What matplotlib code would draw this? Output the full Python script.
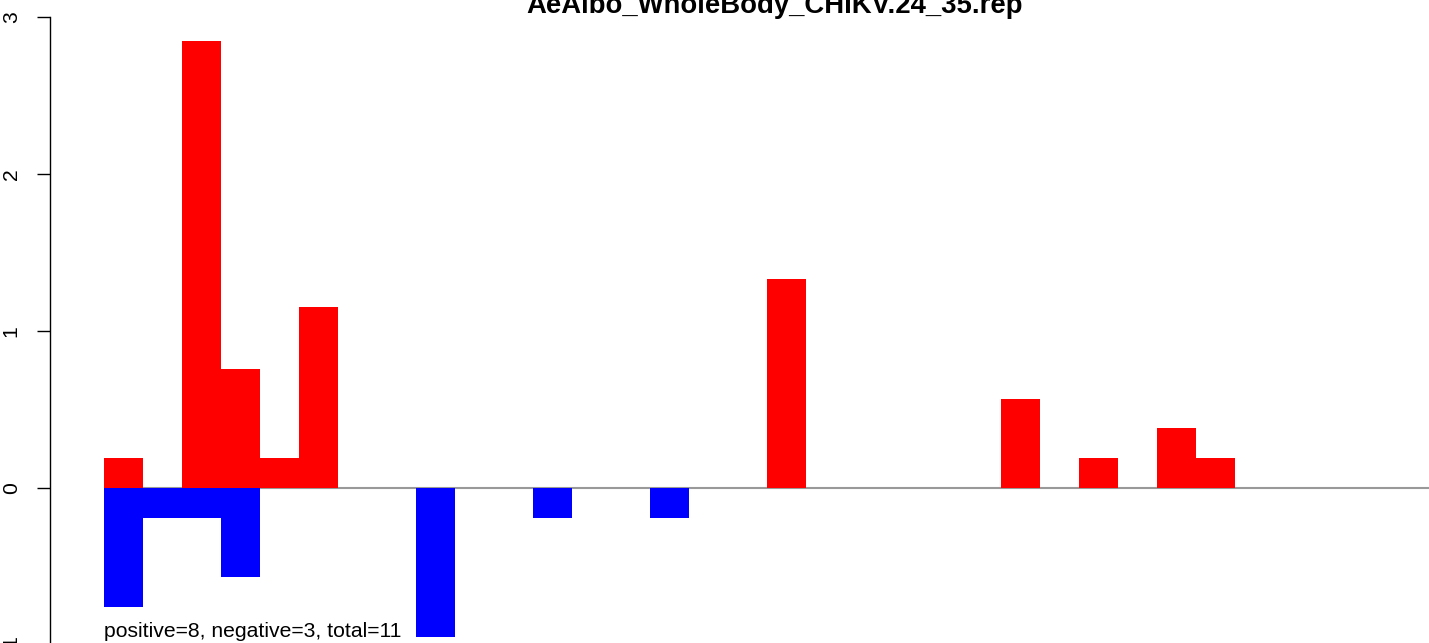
import matplotlib.pyplot as plt

plt.rcParams['font.family'] = ['Liberation Sans', 'DejaVu Sans']

# 34 positions, bars drawn with no gaps
n_pos = 34
pos_idx = [0, 2, 3, 4, 5, 17, 23, 25, 27, 28]
pos_val = [0.19, 2.85, 0.76, 0.19, 1.15, 1.33, 0.57, 0.19, 0.38, 0.19]
neg_idx = [0, 1, 2, 3, 8, 11, 14]
neg_val = [-0.76, -0.19, -0.19, -0.57, -0.95, -0.19, -0.19]
yticks = [-1, 0, 1, 2, 3]
title = "AeAlbo_WholeBody_CHIKV.24_35.rep"
note = "positive=8, negative=3, total=11"

W, H = 1429, 643
fig = plt.figure(figsize=(W / 100, H / 100), dpi=100)
# axes: left spine at x=50px, top at y=17px (value 3), bottom at y=645px (value -1)
ax = fig.add_axes([50 / W, -2 / H, (W - 50) / W, 628 / H])

ax.hlines(0, 0, n_pos, color='#999999', lw=1.5, zorder=1)
ax.bar(pos_idx, pos_val, width=1, align='edge', color='#FF0000', lw=0, zorder=2)
ax.bar(neg_idx, neg_val, width=1, align='edge', color='#0000FF', lw=0, zorder=2)

ax.set_xlim(-54 / 39, (W - 104) / 39)
ax.set_ylim(-1, 3)
ax.set_yticks(yticks)
ax.set_yticklabels([str(t) for t in yticks], rotation=90, va='center', fontsize=15.2)
ax.tick_params(axis='y', length=9.5, width=1, pad=11.5)
ax.set_xticks([])
for s in ['top', 'right', 'bottom']:
    ax.spines[s].set_visible(False)
ax.spines['left'].set_linewidth(1)

ax.text(0, -0.949, note, fontsize=15.2, va='baseline', ha='left')
fig.text(775 / W, 1 - 13 / H, title, fontsize=19.8, fontweight='bold',
         ha='center', va='baseline')

fig.savefig('out.png', dpi=100)
